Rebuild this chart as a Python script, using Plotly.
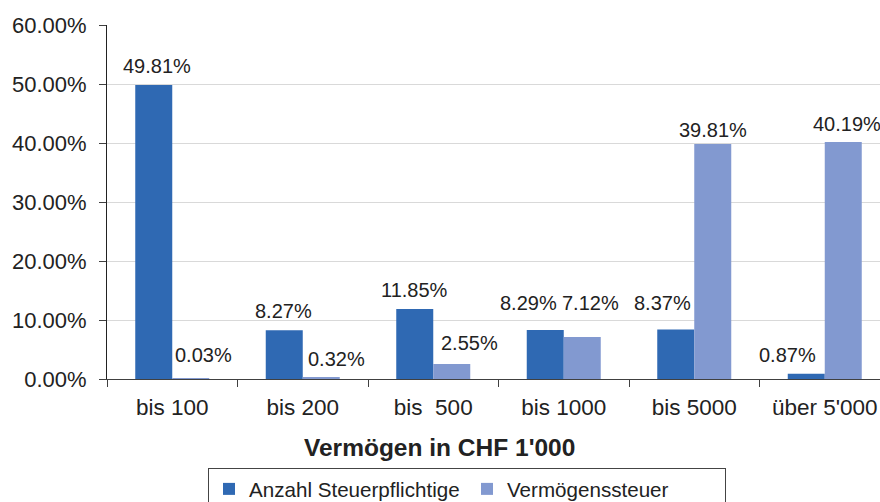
import plotly.graph_objects as go

categories = ["bis 100", "bis 200", "bis  500", "bis 1000", "bis 5000", "über 5'000"]
anzahl = [49.81, 8.27, 11.85, 8.29, 8.37, 0.87]
steuer = [0.03, 0.32, 2.55, 7.12, 39.81, 40.19]
series_names = ["Anzahl Steuerpflichtige", "Vermögenssteuer"]
yticks = [0, 10, 20, 30, 40, 50, 60]
x_title = "Vermögen in CHF 1'000"

# label nudges (pixels) mimicking the manual placement in the original
label_dx = [[3, 13], [-1, 15], [0, 18], [-17, 8], [-13, 0], [-19, 4]]
label_dy = [[19, 24], [19, 18], [19, 21], [27, 34], [27, 14], [19, 18]]

FONT = "Liberation Sans, Arial, sans-serif"
COLORS = ["#2F69B3", "#8299D0"]
BARGAP = 0.433

fig = go.Figure()
for si, (name, vals) in enumerate([(series_names[0], anzahl), (series_names[1], steuer)]):
    fig.add_trace(go.Bar(
        x=categories, y=vals, name=name, marker_color=COLORS[si], marker_line_width=0,
    ))
    off = (-1 if si == 0 else 1) * (1 - BARGAP) / 4
    for ci, v in enumerate(vals):
        fig.add_annotation(
            x=ci + off, y=v, xref="x", yref="y", text=f"{v:.2f}%", showarrow=False,
            xanchor="center", yanchor="middle",
            xshift=label_dx[ci][si], yshift=label_dy[ci][si],
            font=dict(family=FONT, size=20, color="#222222"),
        )

# axis title (placed off-centre, as in the original)
fig.add_annotation(
    x=(439 - 107) / 773, y=(379 - 447) / 354, xref="paper", yref="paper",
    text=f"<b>{x_title}</b>", showarrow=False, xanchor="center", yanchor="middle",
    font=dict(family=FONT, size=24.5, color="#222222"),
)

fig.update_layout(
    width=880, height=502,
    margin=dict(l=107, r=0, t=25, b=123, autoexpand=False),
    paper_bgcolor="white", plot_bgcolor="white",
    barmode="group", bargap=BARGAP, bargroupgap=0,
    font=dict(family=FONT, color="#222222"),
    showlegend=True,
    legend=dict(orientation="h", xref="container", yref="container",
                x=208 / 880, xanchor="left", y=1 - 468 / 502, yanchor="top",
                bordercolor="#444444", borderwidth=1, font=dict(size=20.6, color="#222222"),
                itemwidth=30, entrywidth=213, traceorder="normal"),
)
fig.update_xaxes(
    range=[-0.5, -0.5 + 773 / 130.5], automargin=False,
    showline=True, linecolor="#404040", linewidth=1,
    ticks="outside", tickson="boundaries", ticklen=7, tickcolor="#404040",
    ticklabelstandoff=8,
    tickfont=dict(size=22.5, color="#222222"),
)
fig.update_yaxes(
    range=[0, 60], tickvals=yticks, ticktext=[f"{v:.2f}%" for v in yticks], automargin=False,
    showline=True, linecolor="#222222", linewidth=1,
    ticks="outside", ticklen=7, tickcolor="#404040",
    ticklabelstandoff=8,
    showgrid=True, gridcolor="#D9D9D9", gridwidth=1, zeroline=False,
    tickfont=dict(size=22, color="#222222"),
)
fig.write_html("out.html", config={"displayModeBar": False},
               post_script="document.body.style.margin='0';document.body.style.overflow='hidden';")
